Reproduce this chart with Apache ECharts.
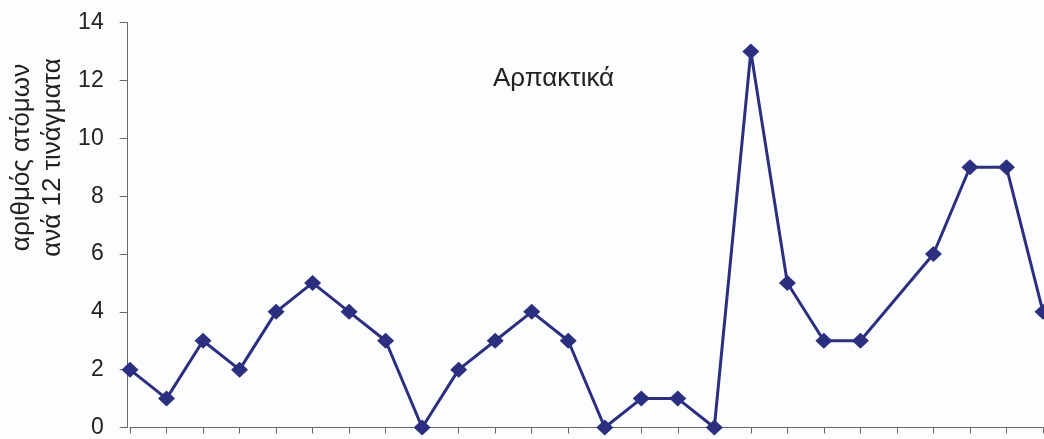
<!DOCTYPE html>
<html>
<head>
<meta charset="utf-8">
<script src="https://cdn.jsdelivr.net/npm/echarts@6/dist/echarts.min.js"></script>
<style>
  html, body { margin: 0; padding: 0; background: #fcfdfe; }
  #chart { width: 1044px; height: 439px; }
</style>
</head>
<body>
<div id="chart"></div>
<script>
// Samples (one per sampling point); null = no sample taken
const categories = ['1','2','3','4','5','6','7','8','9','10','11','12','13',
                    '14','15','16','17','18','19','20','21','22','23','24','25','26'];
const raptors = [2, 1, 3, 2, 4, 5, 4, 3, 0, 2, 3, 4, 3, 0, 1, 1, 0, 13, 5, 3, 3, null, 6, 9, 9, 4];
const yTicks = [0, 2, 4, 6, 8, 10, 12, 14];

const chartTitle = 'Αρπακτικά';
const yName = 'αριθμός ατόμων\nανά 12 τινάγματα';

const font = '"Liberation Sans", Arial, sans-serif';
const lineColor = '#2c2f80';

const chart = echarts.init(document.getElementById('chart'), null, { renderer: 'canvas' });
chart.setOption({
  backgroundColor: '#fcfdfe',
  animation: false,
  grid: { left: 130, right: 1, top: 22.7, bottom: 11.3, containLabel: false },
  xAxis: {
    type: 'category',
    data: categories,
    boundaryGap: false,
    axisLine: { lineStyle: { color: '#666', width: 1 } },
    axisTick: { show: true, length: 6, inside: false, lineStyle: { color: '#666' } },
    axisLabel: { show: false },
    splitLine: { show: false }
  },
  yAxis: {
    type: 'value',
    min: yTicks[0],
    max: yTicks[yTicks.length - 1],
    interval: 2,
    offset: 2.3,
    axisLine: { show: true, lineStyle: { color: '#666', width: 1 } },
    axisTick: { show: true, length: 8, lineStyle: { color: '#666' } },
    axisLabel: { color: '#222', fontSize: 23, fontFamily: font, margin: 24 },
    splitLine: { show: false }
  },
  graphic: [
    {
      type: 'text',
      x: 493, y: 79,
      style: { text: chartTitle, fontSize: 26, fontFamily: font, fill: '#222',
               align: 'left', verticalAlign: 'middle' }
    },
    {
      type: 'text',
      x: 37.5, y: 157.5,
      rotation: Math.PI / 2,
      style: {
        text: yName, fontSize: 26, fontFamily: font, fill: '#222',
        align: 'center', verticalAlign: 'middle', lineHeight: 31
      }
    }
  ],
  series: [{
    type: 'line',
    data: raptors,
    connectNulls: true,
    symbol: 'diamond',
    symbolSize: [17, 16],
    lineStyle: { color: lineColor, width: 3 },
    itemStyle: { color: lineColor },
    clip: false
  }]
});
</script>
</body>
</html>
